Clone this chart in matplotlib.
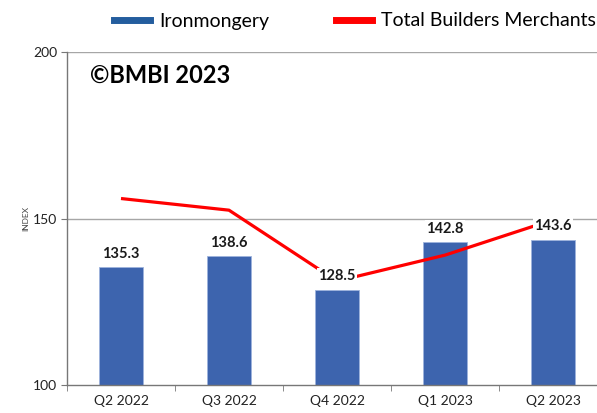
import matplotlib
matplotlib.use("Agg")
import matplotlib.pyplot as plt
from matplotlib.lines import Line2D

categories = ["Q2 2022", "Q3 2022", "Q4 2022", "Q1 2023", "Q2 2023"]
ironmongery = [135.3, 138.6, 128.5, 142.8, 143.6]
total_bm = [156.0, 152.5, 131.2, 139.0, 149.6]
yticks = [100, 150, 200]

plt.rcParams['font.family'] = ['Lato', 'DejaVu Sans']

fig = plt.figure(figsize=(5.97, 4.13), dpi=100)
ax = fig.add_axes([67/597, 1-385/413, 540/597, (385-52)/413])

x = list(range(len(categories)))
ax.bar(x, [v - 100 for v in ironmongery], bottom=100, width=0.4, color="#3D64AE",
       edgecolor="#9DB3DC", linewidth=0.6, zorder=2)
ax.plot(x, total_bm, color="#FF0000", lw=2.3, zorder=3, solid_capstyle='butt')

for xi, v in zip(x, ironmongery):
    ax.annotate(f"{v:.1f}", (xi, v), xytext=(0, 5), textcoords="offset points",
                ha="center", va="bottom", fontsize=10.5, fontweight="bold",
                color="#1a1a1a", zorder=4,
                bbox=dict(facecolor="white", edgecolor="none", pad=1.0))

ax.set_xlim(-0.5, 4.5)
ax.set_ylim(100, 200)
ax.set_yticks(yticks)
ax.set_yticklabels([str(t) for t in yticks], fontsize=10, color="#222222")
ax.set_xticks(x)
ax.set_xticklabels(categories, fontsize=10, color="#222222")
ax.set_xticks([i - 0.5 for i in range(len(categories) + 1)], minor=True)
ax.tick_params(axis='x', which='major', length=0, pad=7)
ax.tick_params(axis='x', which='minor', length=4, color="#777777", direction='out')
ax.tick_params(axis='y', length=4, color="#777777", direction='out', pad=3)

for t in [150, 200]:
    ax.axhline(t, color="#A6A6A6", lw=1.0, zorder=1)

for s in ['top', 'right']:
    ax.spines[s].set_visible(False)
ax.spines['left'].set_color("#777777")
ax.spines['bottom'].set_color("#777777")
ax.spines['left'].set_linewidth(1.0)
ax.spines['bottom'].set_linewidth(1.0)

ax.set_ylabel("INDEX", fontsize=6, color="#444444", labelpad=3)

ax.text(0.043, 0.93, "©BMBI 2023", transform=ax.transAxes, fontsize=17,
        fontweight="bold", color="#000000", ha="left", va="center")

handles = [Line2D([], [], color="#245D9E", lw=5),
           Line2D([], [], color="#FF0000", lw=5)]
fig.legend(handles, ["Ironmongery", "Total Builders Merchants"], loc="center",
           bbox_to_anchor=(355/597, 1-21/413), ncol=2, frameon=False, fontsize=14,
           handlelength=1.85, columnspacing=3.4, handletextpad=0.5)

fig.savefig("out.png", dpi=100)
